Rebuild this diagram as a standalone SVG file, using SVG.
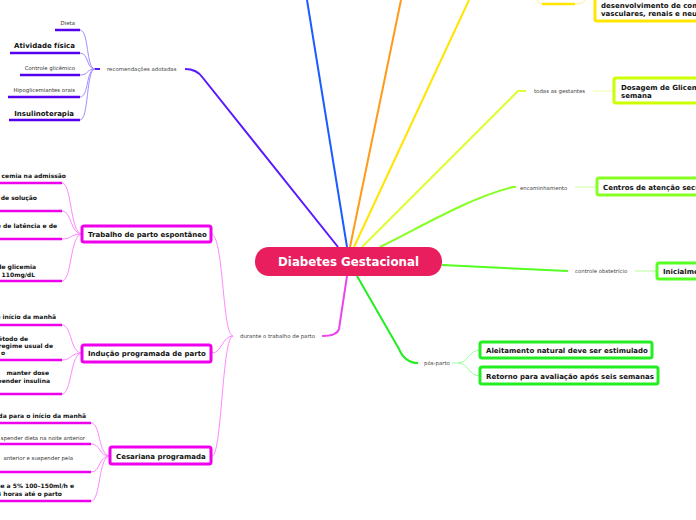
<svg xmlns="http://www.w3.org/2000/svg" width="696" height="520" viewBox="0 0 696 520">
<style>
text{font-family:"DejaVu Sans","Liberation Sans",sans-serif}
.lbl{font-size:5.4px;fill:#444}
.sm{font-size:5.4px;fill:#333}
.b7{font-size:7px;font-weight:bold;fill:#111}
.b6{font-size:6px;font-weight:bold;fill:#111}
.box{fill:#fff;stroke-width:3}
.main{fill:none;stroke-width:2}
.thin{fill:none;stroke-width:1}
.ul{fill:none;stroke-width:2.5}
</style>
<rect width="696" height="520" fill="#fff"/>
<g id="connectors">
<!-- main branches -->
<path class="main" stroke="#5a1aff" d="M338 247 L203 78 Q197 69 185 69"/>
<path class="main" stroke="#1a5cff" d="M347 247 L307 0"/>
<path class="main" stroke="#ff9a1a" d="M350 247 L401 0"/>
<path class="main" stroke="#ffe500" d="M354 247 L469 0"/>
<path class="main" stroke="#ddff33" d="M362 247 L518 91 L526 91"/>
<path class="main" stroke="#88ff22" d="M380 247 C430 222 470 198 513 187 L516 187"/>
<path class="main" stroke="#55ff22" d="M442 265 L568 271"/>
<path class="main" stroke="#22ee22" d="M357 276 L399 349 Q405 363 418 363"/>
<path class="main" stroke="#ee44ee" d="M347 276 L339 329 Q337 336 322 336"/>
<!-- recomendações adotadas -->
<path d="M95 69 L100 69" stroke="#5a1aff" stroke-width="2"/>
<g class="thin" stroke="#a58cff">
<path d="M95 69 C86 69 89 30 80 30"/>
<path d="M95 69 C86 69 89 53 80 53"/>
<path d="M95 69 C86 69 89 75 80 75"/>
<path d="M95 69 C86 69 89 97 80 97"/>
<path d="M95 69 C86 69 89 120 80 120"/>
</g>
<g class="ul" stroke="#5500ee">
<path d="M55 30 H80"/><path d="M10 53 H80"/><path d="M20 75 H80"/><path d="M8 97 H80"/><path d="M9 120 H80"/>
</g>
<!-- durante o trabalho de parto -->
<g class="thin" stroke="#ff88ff">
<path d="M233 336 C222 336 224 234 211 234"/>
<path d="M233 336 C222 336 222 353 212 353"/>
<path d="M233 336 C222 336 222 456 212 456"/>
<path d="M82 234 C70 234 72 183 62 183"/>
<path d="M82 234 C70 234 72 211 62 211"/>
<path d="M82 234 C70 234 72 239 62 239"/>
<path d="M82 234 C70 234 72 281 62 281"/>
<path d="M82 353 C70 353 72 325 62 325"/>
<path d="M82 353 C70 353 72 360 62 360"/>
<path d="M82 353 C70 353 72 394 62 394"/>
<path d="M110 456 C98 456 101 423 91 423"/>
<path d="M110 456 C98 456 101 444 91 444"/>
<path d="M110 456 C98 456 101 472 91 472"/>
<path d="M110 456 C98 456 101 501 91 501"/>
</g>
<g class="ul" stroke="#ee00ee">
<path d="M0 183 H62"/><path d="M0 211 H62"/><path d="M0 239 H62"/><path d="M0 281 H62"/>
<path d="M0 325 H62"/><path d="M0 360 H62"/><path d="M0 394 H62"/>
<path d="M0 423 H91"/><path d="M0 444 H91"/><path d="M0 472 H91"/><path d="M0 501 H91"/>
</g>
<!-- yellow top -->
<path class="thin" stroke="#fff08a" d="M537 0 Q538 4 543 4"/>
<path class="ul" stroke="#ffe500" d="M542 4 H575"/>
<path class="thin" stroke="#fff08a" d="M575 4 Q583 4 585 0"/>
<!-- right labels to boxes -->
<path class="thin" stroke="#eeffaa" stroke-width="1.5" d="M593 91 H614"/>
<path class="thin" stroke="#ccff99" stroke-width="1.5" d="M575 187 H597"/>
<path class="thin" stroke="#b5ff99" stroke-width="1.5" d="M635 271 H657"/>
<g class="thin" stroke="#99ff99">
<path d="M452 363 L458 363 C468 363 469 350 480 350"/>
<path d="M458 363 C468 363 469 376 480 376"/>
</g>
</g>
<g id="center">
<rect x="255" y="247" width="187" height="29" rx="14" fill="#e91e5e"/>
<text x="348.5" y="266" text-anchor="middle" style="font-size:11.8px;font-weight:bold;fill:#fff">Diabetes Gestacional</text>
</g>
<g id="rec-label"><text class="lbl" x="107" y="71">recomendações adotadas</text></g>
<g id="dieta"><text class="sm" x="75" y="25" text-anchor="end">Dieta</text></g>
<g id="atividade"><text class="b7" x="75" y="47.5" text-anchor="end">Atividade física</text></g>
<g id="controle-glic"><text class="sm" x="75" y="70" text-anchor="end">Controle glicêmico</text></g>
<g id="hipoglic"><text class="sm" x="75" y="92" text-anchor="end">Hipoglicemiantes orais</text></g>
<g id="insulino"><text class="b7" x="74" y="115.5" text-anchor="end">Insulinoterapia</text></g>
<g id="durante-label"><text class="lbl" x="240" y="338">durante o trabalho de parto</text></g>
<g id="trabalho">
<rect class="box" stroke="#ee00ee" x="82" y="226" width="129" height="16" rx="2"/>
<text class="b7" x="88" y="236.5">Trabalho de parto espontâneo</text>
</g>
<g id="t1"><text class="b6" x="66" y="178" text-anchor="end">cemia na admissão</text></g>
<g id="t2"><text class="b6" x="37" y="200" text-anchor="end">o de solução</text></g>
<g id="t3"><text class="b6" x="57" y="228" text-anchor="end">se de latência e de</text></g>
<g id="t4"><text class="b6" x="36" y="269" text-anchor="end">de glicemia</text><text class="b6" x="35" y="277" text-anchor="end">a 110mg/dL</text></g>
<g id="inducao">
<rect class="box" stroke="#ee00ee" x="82" y="345" width="129" height="17" rx="2"/>
<text class="b7" x="88" y="356">Indução programada de parto</text>
</g>
<g id="i1"><text class="b6" x="56" y="319" text-anchor="end">o início da manhã</text></g>
<g id="i2"><text class="b6" x="28" y="341" text-anchor="end">étodo de</text><text class="b6" x="53" y="348" text-anchor="end">o regime usual de</text><text class="b6" x="5" y="355" text-anchor="end">o</text></g>
<g id="i3"><text class="b6" x="49" y="375" text-anchor="end">manter dose</text><text class="b6" x="50" y="383" text-anchor="end">spender insulina</text></g>
<g id="cesariana">
<rect class="box" stroke="#ee00ee" x="110" y="447" width="101" height="17" rx="2"/>
<text class="b7" x="116" y="458.5">Cesariana programada</text>
</g>
<g id="c1"><text class="b6" x="86" y="418" text-anchor="end">nada para o início da manhã</text></g>
<g id="c2"><text class="sm" x="85" y="440" text-anchor="end">spender dieta na noite anterior</text></g>
<g id="c3"><text class="sm" x="73" y="460" text-anchor="end">anterior e suspender pela</text></g>
<g id="c4"><text class="b6" x="74" y="488" text-anchor="end">se a 5% 100–150ml/h e</text><text class="b6" x="62" y="496" text-anchor="end">a 4 horas até o parto</text></g>
<g id="complicacoes">
<rect class="box" stroke="#ffe500" x="595" y="-10" width="120" height="31" rx="2"/>
<text class="b7" x="601" y="8">desenvolvimento de com</text>
<text class="b7" x="601" y="16">vasculares, renais e neu</text>
</g>
<g id="todas-label"><text class="lbl" x="534" y="93">todas as gestantes</text></g>
<g id="dosagem">
<rect class="box" stroke="#ccff00" x="614" y="78" width="100" height="25" rx="2"/>
<text class="b7" x="621" y="89.5">Dosagem de Glicemia</text>
<text class="b7" x="621" y="97.5">semana</text>
</g>
<g id="enc-label"><text class="lbl" x="520" y="190">encaminhamento</text></g>
<g id="centros">
<rect class="box" stroke="#88ff22" x="597" y="178" width="120" height="17" rx="2"/>
<text class="b7" x="603" y="189.5">Centros de atenção secundária</text>
</g>
<g id="ctrl-label"><text class="lbl" x="575" y="273">controle obstetrício</text></g>
<g id="inicialmente">
<rect class="box" stroke="#55ff22" x="657" y="263" width="60" height="16" rx="2"/>
<text class="b7" x="663" y="273.5">Inicialmente</text>
</g>
<g id="pos-label"><text class="lbl" x="424" y="365">pós-parto</text></g>
<g id="aleitamento">
<rect class="box" stroke="#22ee22" x="480" y="342" width="172" height="16" rx="2"/>
<text class="b7" x="486" y="352.5">Aleitamento natural deve ser estimulado</text>
</g>
<g id="retorno">
<rect class="box" stroke="#22ee22" x="480" y="367" width="178" height="17" rx="2"/>
<text class="b7" x="486" y="378.5">Retorno para avaliação após seis semanas</text>
</g>
</svg>
